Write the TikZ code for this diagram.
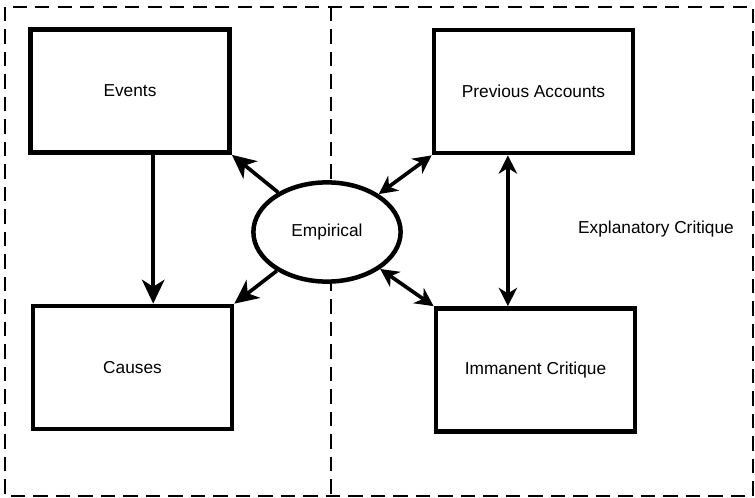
\documentclass[tikz,border=0pt]{standalone}
\usepackage{fontspec}
\setmainfont{Liberation Sans}
\usetikzlibrary{arrows.meta, shapes.geometric}

\begin{document}
\begin{tikzpicture}
  [
    x=0.025cm, y=-0.025cm,
    font=\fontsize{12.3}{14}\selectfont,
    box/.style={draw, line width=3.2pt, fill=white,
      minimum width=4.98cm, minimum height=3.08cm},
    oval/.style={draw, ellipse, line width=3.2pt, fill=white,
      minimum width=3.68cm, minimum height=2.48cm},
    frame/.style={line width=1.4pt, dash pattern=on 10pt off 6pt},
    arr/.style={line width=2.6pt,
      -{Stealth[length=17pt,width=16pt,inset=5pt]}},
    darr/.style={line width=2.6pt,
      {Stealth[length=13pt,width=13pt,inset=4pt]}-{Stealth[length=13pt,width=13pt,inset=4pt]}}
  ]
  \useasboundingbox (0,0) rectangle (755,498);
  % frame
  \draw[frame] (5,7) rectangle (753,496);
  \draw[frame] (331,7) -- (331,496);
  % boxes
  \node[box] (events) at (130,91) {Events};
  \node[box] (causes) at (132.5,367.5) {Causes};
  \node[box] (prev) at (533.5,91.5) {Previous Accounts};
  \node[box] (imm) at (535.5,370) {Immanent Critique};
  \node[oval] (emp) at (327,232) {Empirical};
  % labels
  \node (expl) at (656,229) {Explanatory Critique};
  % edges
  \coordinate (ev) at ([xshift=0.58cm]events.south);
  \coordinate (pa) at ([xshift=-0.64cm]prev.south);
  \draw[arr] (ev) -- (ev |- causes.north);
  \draw[arr] (emp) -- (events.south east);
  \draw[arr] (emp) -- (causes.north east);
  \draw[darr] (emp) -- (prev.south west);
  \draw[darr] (emp) -- (imm.north west);
  \draw[darr] (pa) -- (pa |- imm.north);
\end{tikzpicture}
\end{document}
